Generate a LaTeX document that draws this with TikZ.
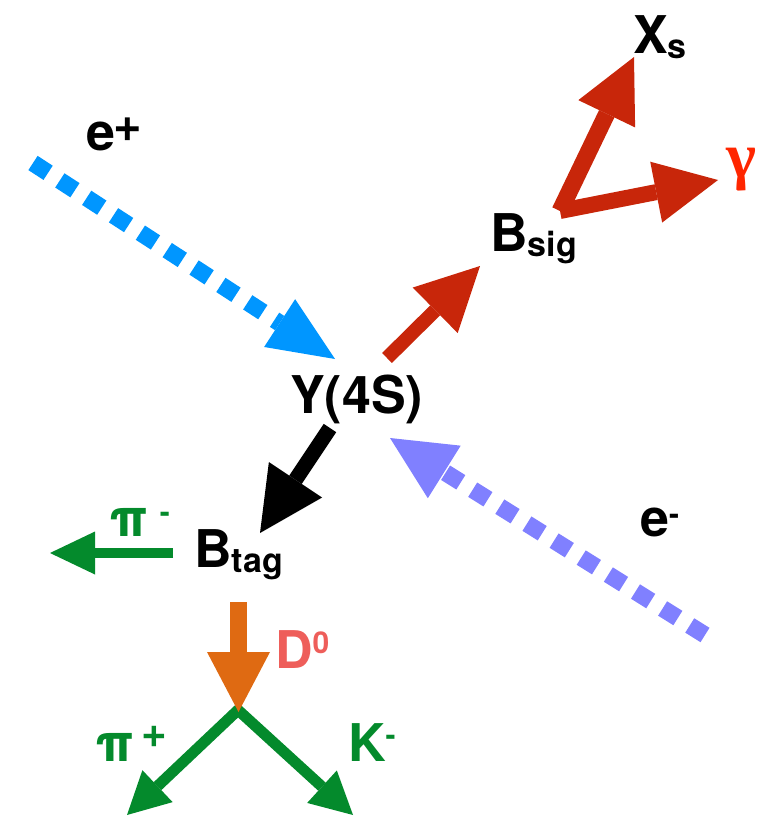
\documentclass[tikz,border=0pt]{standalone}
\usepackage{fontspec}
\setmainfont{TeX Gyre Heros}
\newfontfamily\gamfont{Liberation Serif}
\usetikzlibrary{arrows.meta}
\definecolor{eplus}{HTML}{0096FF}
\definecolor{eminus}{HTML}{8080FF}
\definecolor{sigred}{HTML}{C8260A}
\definecolor{gamred}{HTML}{FF2600}
\definecolor{dorange}{HTML}{DF6A12}
\definecolor{pigreen}{HTML}{048A2C}
\definecolor{dzero}{HTML}{EE5E5A}
\newcommand\mysup[2]{\raisebox{#1}{\fontsize{30}{30}\selectfont #2}}
\newcommand\myplus[2]{\raisebox{#1}{\fontsize{#2}{#2}\selectfont +}}
\newcommand\mysub[1]{\raisebox{-5pt}{\fontsize{34}{34}\selectfont #1}}
\begin{document}
\begin{tikzpicture}[x=1pt,y=-1pt,
  lbl/.style={inner sep=0pt, anchor=base west, font=\fontsize{52}{60}\selectfont\bfseries},
  beam/.style={line width=17pt, dash pattern=on 18pt off 14pt, line cap=butt},
  decay/.style={line cap=butt, line join=miter},
]
\useasboundingbox (0,0) rectangle (774,816);

% labels
\node[lbl] (ep) at (86,150) {e\hspace{-2pt}\myplus{9pt}{49}};
\node[lbl] (xs) at (633,54) {X\mysub{s}};
\node[lbl, text=gamred, font=\fontsize{64}{70}\selectfont\gamfont\bfseries] (gam) at (726,177) {γ};
\node[lbl] (bsig) at (490,251) {B\mysub{sig}};
\node[lbl] (ups) at (290,413) {Υ(4S)};
\node[lbl] (em) at (640,536) {e\mysup{12pt}{-}};
\node[lbl, text=pigreen] (pim) at (109,536) {π\hspace{12pt}\mysup{14pt}{-}};
\node[lbl] (btag) at (194,567) {B\mysub{tag}};
\node[lbl, text=dzero] (d0) at (275,668) {D\mysup{15pt}{0}};
\node[lbl, text=pigreen] (pip) at (95,761) {π\hspace{8pt}\myplus{14pt}{44}};
\node[lbl, text=pigreen] (km) at (348,761) {K\mysup{16pt}{-}};

% arrow end points
\coordinate (epS) at (33,163);
\coordinate (epT) at (335,359);
\coordinate (emS) at (705,635);
\coordinate (emT) at (390,438);
\coordinate (sigS) at (387,358);
\coordinate (sigT) at (480,266);
\coordinate (bV) at (560,211);
\coordinate (xsT) at (634,57);
\coordinate (gT) at (718,180);
\coordinate (tagS) at (330,428);
\coordinate (tagT) at (260,533);
\coordinate (pimS) at (173,553);
\coordinate (pimT) at (50,553);
\coordinate (dS) at (238.5,602);
\coordinate (dT) at (238.5,712);
\coordinate (gV) at (238,710);
\coordinate (pipT) at (127,815);
\coordinate (kmT) at (353,815);

% beams
\draw[beam, eplus, -{Triangle[length=66pt,width=57pt,line width=0pt]}] (epS) -- (epT);
\draw[beam, eminus, -{Triangle[length=64pt,width=62pt,line width=0pt]}] (emS) -- (emT);

% signal side
\draw[decay, sigred, line width=14pt, -{Triangle[length=63pt,width=64pt,line width=0pt]}] (sigS) -- (sigT);
\draw[decay, sigred, line width=17pt, -{Triangle[length=63pt,width=63pt,line width=0pt]}] (bV) -- (xsT);
\draw[decay, sigred, line width=16pt, -{Triangle[length=63pt,width=62pt,line width=0pt]}] (bV) -- (gT);

% tag side
\draw[decay, black, line width=15pt, -{Triangle[length=64pt,width=64pt,line width=0pt]}] (tagS) -- (tagT);
\draw[decay, pigreen, line width=10pt, -{Triangle[length=45pt,width=43pt,line width=0pt]}] (pimS) -- (pimT);
\draw[decay, pigreen, line width=11pt, {Triangle[length=42pt,width=44pt,line width=0pt]}-{Triangle[length=42pt,width=44pt,line width=0pt]}] (pipT) -- (gV) -- (kmT);
\draw[decay, dorange, line width=17pt, -{Triangle[length=60pt,width=63pt,line width=0pt]}] (dS) -- (dT);
\end{tikzpicture}
\end{document}
